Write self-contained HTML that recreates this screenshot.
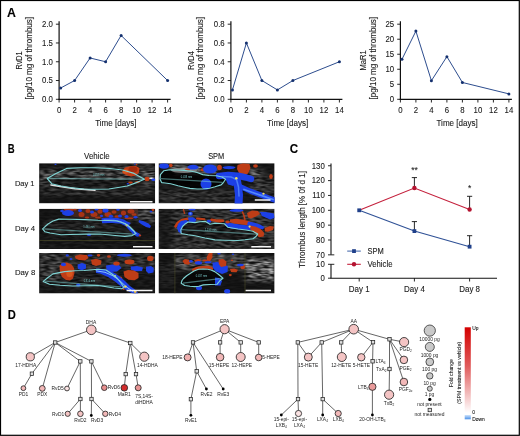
<!DOCTYPE html>
<html><head><meta charset="utf-8"><style>
html,body{margin:0;padding:0;background:#fff;}
body{width:520px;height:436px;overflow:hidden;}
svg{display:block;font-family:"Liberation Sans", sans-serif;will-change:transform;}
text{stroke:#1a1a1a;stroke-width:0.1px;}
.nos{stroke:none}
</style></head><body>
<svg width="520" height="436" viewBox="0 0 520 436">
<defs>
<linearGradient id="fc" x1="0" y1="0" x2="0" y2="1"><stop offset="0" stop-color="#d40000"/><stop offset="0.45" stop-color="#e05a5a"/><stop offset="1" stop-color="#ffffff"/></linearGradient>
<linearGradient id="fcb" x1="0" y1="0" x2="0" y2="1"><stop offset="0" stop-color="#cfe3fb"/><stop offset="1" stop-color="#4a90e8"/></linearGradient>
<filter id="spk" x="0" y="0" width="100%" height="100%" filterUnits="objectBoundingBox">
<feTurbulence type="fractalNoise" baseFrequency="0.16 0.45" numOctaves="3" seed="7"/>
<feColorMatrix type="matrix" values="0 0 0 0 1  0 0 0 0 1  0 0 0 0 1  2.0 0 0 0 -0.62"/>
<feGaussianBlur stdDeviation="0.8 0.6"/>
</filter>
<filter id="bl" x="-30%" y="-30%" width="160%" height="160%"><feGaussianBlur stdDeviation="0.6"/></filter>
<filter id="bl2" x="-50%" y="-50%" width="200%" height="200%"><feGaussianBlur stdDeviation="2.0"/></filter>
<filter id="bl1" x="-50%" y="-50%" width="200%" height="200%"><feGaussianBlur stdDeviation="0.4"/></filter>
<clipPath id="cp11"><rect x="39.1" y="163.2" width="116.1" height="40.2"/></clipPath>
<mask id="mp11" maskUnits="userSpaceOnUse" x="39.1" y="163.2" width="116.1" height="40.2">
<rect x="39.1" y="163.2" width="116.1" height="40.2" fill="#101010"/>
<g filter="url(#bl2)">
<rect x="95" y="163" width="61" height="6" fill="#fff" opacity="0.3"/>
<rect x="40" y="169" width="116" height="11" fill="#fff" opacity="0.55"/>
<ellipse cx="44" cy="178" rx="8" ry="6" fill="#fff" opacity="0.45"/>
<rect x="40" y="180" width="116" height="9" fill="#fff" opacity="0.2"/>
<rect x="40" y="189" width="116" height="7" fill="#fff" opacity="0.3"/>
<rect x="143" y="168" width="13" height="22" fill="#fff" opacity="0.2"/>
</g></mask>
<clipPath id="cp12"><rect x="158.5" y="163.2" width="116.1" height="40.2"/></clipPath>
<mask id="mp12" maskUnits="userSpaceOnUse" x="158.5" y="163.2" width="116.1" height="40.2">
<rect x="158.5" y="163.2" width="116.1" height="40.2" fill="#1a1a1a"/>
<g filter="url(#bl2)">
<rect x="170" y="165" width="47" height="9" fill="#fff" opacity="0.9"/>
<rect x="245" y="170" width="17" height="6" fill="#fff" opacity="0.8"/>
<rect x="158" y="189" width="77" height="14" fill="#fff" opacity="0.25"/>
<rect x="250" y="176" width="25" height="19" fill="#fff" opacity="0.35"/>
</g></mask>
<clipPath id="cp21"><rect x="39.1" y="208.7" width="116.1" height="40.4"/></clipPath>
<mask id="mp21" maskUnits="userSpaceOnUse" x="39.1" y="208.7" width="116.1" height="40.4">
<rect x="39.1" y="208.7" width="116.1" height="40.4" fill="#101010"/>
<g filter="url(#bl2)">
<rect x="135" y="209" width="21" height="13" fill="#fff" opacity="0.6"/>
<rect x="44" y="219" width="88" height="16" fill="#fff" opacity="0.2"/>
<rect x="40" y="236" width="116" height="13" fill="#fff" opacity="0.05"/>
</g></mask>
<clipPath id="cp22"><rect x="158.5" y="208.7" width="116.1" height="40.4"/></clipPath>
<mask id="mp22" maskUnits="userSpaceOnUse" x="158.5" y="208.7" width="116.1" height="40.4">
<rect x="158.5" y="208.7" width="116.1" height="40.4" fill="#4d4d4d"/>
<g filter="url(#bl2)">
<rect x="175" y="209" width="100" height="40" fill="#fff" opacity="0.15"/>
<polygon points="158.0,209.0 170.0,209.0 170.0,249.0 158.0,249.0" fill="#000" opacity="0.5"/>
</g></mask>
<clipPath id="cp31"><rect x="39.1" y="253.0" width="116.1" height="40.5"/></clipPath>
<mask id="mp31" maskUnits="userSpaceOnUse" x="39.1" y="253.0" width="116.1" height="40.5">
<rect x="39.1" y="253.0" width="116.1" height="40.5" fill="#1a1a1a"/>
<g filter="url(#bl2)">
<rect x="40" y="253" width="20" height="29" fill="#fff" opacity="0.45"/>
<rect x="60" y="253" width="96" height="17" fill="#fff" opacity="0.3"/>
<rect x="50" y="272" width="68" height="14" fill="#fff" opacity="0.25"/>
</g></mask>
<clipPath id="cp32"><rect x="158.5" y="253.0" width="116.1" height="40.5"/></clipPath>
<mask id="mp32" maskUnits="userSpaceOnUse" x="158.5" y="253.0" width="116.1" height="40.5">
<rect x="158.5" y="253.0" width="116.1" height="40.5" fill="#101010"/>
<g filter="url(#bl2)">
<rect x="175" y="254" width="70" height="16" fill="#fff" opacity="0.6"/>
<rect x="245" y="258" width="30" height="23" fill="#fff" opacity="1.0"/>
<rect x="159" y="262" width="16" height="23" fill="#fff" opacity="0.15"/>
</g></mask>
</defs>
<rect x="0" y="0" width="520" height="436" fill="#fff"/>
<text x="7.00" y="16.90" font-size="12" text-anchor="start" font-weight="bold" fill="#000" textLength="8.9" lengthAdjust="spacingAndGlyphs">A</text>
<text x="7.80" y="152.60" font-size="12" text-anchor="start" font-weight="bold" fill="#000" textLength="6.9" lengthAdjust="spacingAndGlyphs">B</text>
<text x="289.80" y="152.60" font-size="12" text-anchor="start" font-weight="bold" fill="#000" textLength="8.4" lengthAdjust="spacingAndGlyphs">C</text>
<text x="7.80" y="318.90" font-size="12" text-anchor="start" font-weight="bold" fill="#000" textLength="8.1" lengthAdjust="spacingAndGlyphs">D</text>
<line x1="59.10" y1="21.20" x2="59.10" y2="99.90" stroke="#111" stroke-width="1.2" />
<line x1="58.50" y1="99.30" x2="170.60" y2="99.30" stroke="#111" stroke-width="1.2" />
<line x1="55.90" y1="99.30" x2="59.10" y2="99.30" stroke="#111" stroke-width="0.9" />
<text transform="translate(52.90,102.10) scale(0.93,1)" font-size="8.4" text-anchor="end" font-weight="normal" fill="#1a1a1a" >0.0</text>
<line x1="55.90" y1="80.53" x2="59.10" y2="80.53" stroke="#111" stroke-width="0.9" />
<text transform="translate(52.90,83.33) scale(0.93,1)" font-size="8.4" text-anchor="end" font-weight="normal" fill="#1a1a1a" >0.5</text>
<line x1="55.90" y1="61.75" x2="59.10" y2="61.75" stroke="#111" stroke-width="0.9" />
<text transform="translate(52.90,64.55) scale(0.93,1)" font-size="8.4" text-anchor="end" font-weight="normal" fill="#1a1a1a" >1.0</text>
<line x1="55.90" y1="42.98" x2="59.10" y2="42.98" stroke="#111" stroke-width="0.9" />
<text transform="translate(52.90,45.77) scale(0.93,1)" font-size="8.4" text-anchor="end" font-weight="normal" fill="#1a1a1a" >1.5</text>
<line x1="55.90" y1="24.20" x2="59.10" y2="24.20" stroke="#111" stroke-width="0.9" />
<text transform="translate(52.90,27.00) scale(0.93,1)" font-size="8.4" text-anchor="end" font-weight="normal" fill="#1a1a1a" >2.0</text>
<line x1="59.10" y1="99.30" x2="59.10" y2="102.50" stroke="#111" stroke-width="0.9" />
<text transform="translate(59.10,113.30) scale(0.93,1)" font-size="8.4" text-anchor="middle" font-weight="normal" fill="#1a1a1a" >0</text>
<line x1="74.60" y1="99.30" x2="74.60" y2="102.50" stroke="#111" stroke-width="0.9" />
<text transform="translate(74.60,113.30) scale(0.93,1)" font-size="8.4" text-anchor="middle" font-weight="normal" fill="#1a1a1a" >2</text>
<line x1="90.10" y1="99.30" x2="90.10" y2="102.50" stroke="#111" stroke-width="0.9" />
<text transform="translate(90.10,113.30) scale(0.93,1)" font-size="8.4" text-anchor="middle" font-weight="normal" fill="#1a1a1a" >4</text>
<line x1="105.60" y1="99.30" x2="105.60" y2="102.50" stroke="#111" stroke-width="0.9" />
<text transform="translate(105.60,113.30) scale(0.93,1)" font-size="8.4" text-anchor="middle" font-weight="normal" fill="#1a1a1a" >6</text>
<line x1="121.10" y1="99.30" x2="121.10" y2="102.50" stroke="#111" stroke-width="0.9" />
<text transform="translate(121.10,113.30) scale(0.93,1)" font-size="8.4" text-anchor="middle" font-weight="normal" fill="#1a1a1a" >8</text>
<line x1="136.60" y1="99.30" x2="136.60" y2="102.50" stroke="#111" stroke-width="0.9" />
<text transform="translate(136.60,113.30) scale(0.93,1)" font-size="8.4" text-anchor="middle" font-weight="normal" fill="#1a1a1a" >10</text>
<line x1="152.10" y1="99.30" x2="152.10" y2="102.50" stroke="#111" stroke-width="0.9" />
<text transform="translate(152.10,113.30) scale(0.93,1)" font-size="8.4" text-anchor="middle" font-weight="normal" fill="#1a1a1a" >12</text>
<line x1="167.60" y1="99.30" x2="167.60" y2="102.50" stroke="#111" stroke-width="0.9" />
<text transform="translate(167.60,113.30) scale(0.93,1)" font-size="8.4" text-anchor="middle" font-weight="normal" fill="#1a1a1a" >14</text>
<text x="115.85" y="125.60" font-size="8.4" text-anchor="middle" font-weight="normal" fill="#1a1a1a" textLength="41.3" lengthAdjust="spacingAndGlyphs">Time [days]</text>
<polyline fill="none" stroke="#2d4d8e" stroke-width="1" points="60.65,88.03 74.60,80.53 90.10,57.99 105.60,61.75 121.10,35.47 167.60,80.53"/>
<circle cx="60.65" cy="88.03" r="1.5" fill="#14306e"/>
<circle cx="74.60" cy="80.53" r="1.5" fill="#14306e"/>
<circle cx="90.10" cy="57.99" r="1.5" fill="#14306e"/>
<circle cx="105.60" cy="61.75" r="1.5" fill="#14306e"/>
<circle cx="121.10" cy="35.47" r="1.5" fill="#14306e"/>
<circle cx="167.60" cy="80.53" r="1.5" fill="#14306e"/>
<text transform="translate(22.40,60.5) rotate(-90)" font-size="8.4" text-anchor="middle" fill="#1a1a1a" textLength="18" lengthAdjust="spacingAndGlyphs">RvD1</text>
<text transform="translate(32.10,58.2) rotate(-90)" font-size="8.4" text-anchor="middle" fill="#1a1a1a" textLength="82.5" lengthAdjust="spacingAndGlyphs">[pg/10 mg of thrombus]</text>
<line x1="230.90" y1="21.20" x2="230.90" y2="99.90" stroke="#111" stroke-width="1.2" />
<line x1="230.30" y1="99.30" x2="342.40" y2="99.30" stroke="#111" stroke-width="1.2" />
<line x1="227.70" y1="99.30" x2="230.90" y2="99.30" stroke="#111" stroke-width="0.9" />
<text transform="translate(224.70,102.10) scale(0.93,1)" font-size="8.4" text-anchor="end" font-weight="normal" fill="#1a1a1a" >0.0</text>
<line x1="227.70" y1="80.53" x2="230.90" y2="80.53" stroke="#111" stroke-width="0.9" />
<text transform="translate(224.70,83.33) scale(0.93,1)" font-size="8.4" text-anchor="end" font-weight="normal" fill="#1a1a1a" >0.2</text>
<line x1="227.70" y1="61.75" x2="230.90" y2="61.75" stroke="#111" stroke-width="0.9" />
<text transform="translate(224.70,64.55) scale(0.93,1)" font-size="8.4" text-anchor="end" font-weight="normal" fill="#1a1a1a" >0.4</text>
<line x1="227.70" y1="42.98" x2="230.90" y2="42.98" stroke="#111" stroke-width="0.9" />
<text transform="translate(224.70,45.78) scale(0.93,1)" font-size="8.4" text-anchor="end" font-weight="normal" fill="#1a1a1a" >0.6</text>
<line x1="227.70" y1="24.20" x2="230.90" y2="24.20" stroke="#111" stroke-width="0.9" />
<text transform="translate(224.70,27.00) scale(0.93,1)" font-size="8.4" text-anchor="end" font-weight="normal" fill="#1a1a1a" >0.8</text>
<line x1="230.90" y1="99.30" x2="230.90" y2="102.50" stroke="#111" stroke-width="0.9" />
<text transform="translate(230.90,113.30) scale(0.93,1)" font-size="8.4" text-anchor="middle" font-weight="normal" fill="#1a1a1a" >0</text>
<line x1="246.40" y1="99.30" x2="246.40" y2="102.50" stroke="#111" stroke-width="0.9" />
<text transform="translate(246.40,113.30) scale(0.93,1)" font-size="8.4" text-anchor="middle" font-weight="normal" fill="#1a1a1a" >2</text>
<line x1="261.90" y1="99.30" x2="261.90" y2="102.50" stroke="#111" stroke-width="0.9" />
<text transform="translate(261.90,113.30) scale(0.93,1)" font-size="8.4" text-anchor="middle" font-weight="normal" fill="#1a1a1a" >4</text>
<line x1="277.40" y1="99.30" x2="277.40" y2="102.50" stroke="#111" stroke-width="0.9" />
<text transform="translate(277.40,113.30) scale(0.93,1)" font-size="8.4" text-anchor="middle" font-weight="normal" fill="#1a1a1a" >6</text>
<line x1="292.90" y1="99.30" x2="292.90" y2="102.50" stroke="#111" stroke-width="0.9" />
<text transform="translate(292.90,113.30) scale(0.93,1)" font-size="8.4" text-anchor="middle" font-weight="normal" fill="#1a1a1a" >8</text>
<line x1="308.40" y1="99.30" x2="308.40" y2="102.50" stroke="#111" stroke-width="0.9" />
<text transform="translate(308.40,113.30) scale(0.93,1)" font-size="8.4" text-anchor="middle" font-weight="normal" fill="#1a1a1a" >10</text>
<line x1="323.90" y1="99.30" x2="323.90" y2="102.50" stroke="#111" stroke-width="0.9" />
<text transform="translate(323.90,113.30) scale(0.93,1)" font-size="8.4" text-anchor="middle" font-weight="normal" fill="#1a1a1a" >12</text>
<line x1="339.40" y1="99.30" x2="339.40" y2="102.50" stroke="#111" stroke-width="0.9" />
<text transform="translate(339.40,113.30) scale(0.93,1)" font-size="8.4" text-anchor="middle" font-weight="normal" fill="#1a1a1a" >14</text>
<text x="287.65" y="125.60" font-size="8.4" text-anchor="middle" font-weight="normal" fill="#1a1a1a" textLength="41.3" lengthAdjust="spacingAndGlyphs">Time [days]</text>
<polyline fill="none" stroke="#2d4d8e" stroke-width="1" points="232.45,89.91 246.40,42.98 261.90,80.53 277.40,89.91 292.90,80.53 339.40,61.75"/>
<circle cx="232.45" cy="89.91" r="1.5" fill="#14306e"/>
<circle cx="246.40" cy="42.98" r="1.5" fill="#14306e"/>
<circle cx="261.90" cy="80.53" r="1.5" fill="#14306e"/>
<circle cx="277.40" cy="89.91" r="1.5" fill="#14306e"/>
<circle cx="292.90" cy="80.53" r="1.5" fill="#14306e"/>
<circle cx="339.40" cy="61.75" r="1.5" fill="#14306e"/>
<text transform="translate(194.00,60.5) rotate(-90)" font-size="8.4" text-anchor="middle" fill="#1a1a1a" textLength="18.5" lengthAdjust="spacingAndGlyphs">RvD4</text>
<text transform="translate(203.30,58.2) rotate(-90)" font-size="8.4" text-anchor="middle" fill="#1a1a1a" textLength="82.5" lengthAdjust="spacingAndGlyphs">[pg/10 mg of thrombus]</text>
<line x1="400.40" y1="21.20" x2="400.40" y2="99.90" stroke="#111" stroke-width="1.2" />
<line x1="399.80" y1="99.30" x2="511.90" y2="99.30" stroke="#111" stroke-width="1.2" />
<line x1="397.20" y1="99.30" x2="400.40" y2="99.30" stroke="#111" stroke-width="0.9" />
<text transform="translate(394.20,102.10) scale(0.93,1)" font-size="8.4" text-anchor="end" font-weight="normal" fill="#1a1a1a" >0</text>
<line x1="397.20" y1="84.28" x2="400.40" y2="84.28" stroke="#111" stroke-width="0.9" />
<text transform="translate(394.20,87.08) scale(0.93,1)" font-size="8.4" text-anchor="end" font-weight="normal" fill="#1a1a1a" >5</text>
<line x1="397.20" y1="69.26" x2="400.40" y2="69.26" stroke="#111" stroke-width="0.9" />
<text transform="translate(394.20,72.06) scale(0.93,1)" font-size="8.4" text-anchor="end" font-weight="normal" fill="#1a1a1a" >10</text>
<line x1="397.20" y1="54.24" x2="400.40" y2="54.24" stroke="#111" stroke-width="0.9" />
<text transform="translate(394.20,57.04) scale(0.93,1)" font-size="8.4" text-anchor="end" font-weight="normal" fill="#1a1a1a" >15</text>
<line x1="397.20" y1="39.22" x2="400.40" y2="39.22" stroke="#111" stroke-width="0.9" />
<text transform="translate(394.20,42.02) scale(0.93,1)" font-size="8.4" text-anchor="end" font-weight="normal" fill="#1a1a1a" >20</text>
<line x1="397.20" y1="24.20" x2="400.40" y2="24.20" stroke="#111" stroke-width="0.9" />
<text transform="translate(394.20,27.00) scale(0.93,1)" font-size="8.4" text-anchor="end" font-weight="normal" fill="#1a1a1a" >25</text>
<line x1="400.40" y1="99.30" x2="400.40" y2="102.50" stroke="#111" stroke-width="0.9" />
<text transform="translate(400.40,113.30) scale(0.93,1)" font-size="8.4" text-anchor="middle" font-weight="normal" fill="#1a1a1a" >0</text>
<line x1="415.90" y1="99.30" x2="415.90" y2="102.50" stroke="#111" stroke-width="0.9" />
<text transform="translate(415.90,113.30) scale(0.93,1)" font-size="8.4" text-anchor="middle" font-weight="normal" fill="#1a1a1a" >2</text>
<line x1="431.40" y1="99.30" x2="431.40" y2="102.50" stroke="#111" stroke-width="0.9" />
<text transform="translate(431.40,113.30) scale(0.93,1)" font-size="8.4" text-anchor="middle" font-weight="normal" fill="#1a1a1a" >4</text>
<line x1="446.90" y1="99.30" x2="446.90" y2="102.50" stroke="#111" stroke-width="0.9" />
<text transform="translate(446.90,113.30) scale(0.93,1)" font-size="8.4" text-anchor="middle" font-weight="normal" fill="#1a1a1a" >6</text>
<line x1="462.40" y1="99.30" x2="462.40" y2="102.50" stroke="#111" stroke-width="0.9" />
<text transform="translate(462.40,113.30) scale(0.93,1)" font-size="8.4" text-anchor="middle" font-weight="normal" fill="#1a1a1a" >8</text>
<line x1="477.90" y1="99.30" x2="477.90" y2="102.50" stroke="#111" stroke-width="0.9" />
<text transform="translate(477.90,113.30) scale(0.93,1)" font-size="8.4" text-anchor="middle" font-weight="normal" fill="#1a1a1a" >10</text>
<line x1="493.40" y1="99.30" x2="493.40" y2="102.50" stroke="#111" stroke-width="0.9" />
<text transform="translate(493.40,113.30) scale(0.93,1)" font-size="8.4" text-anchor="middle" font-weight="normal" fill="#1a1a1a" >12</text>
<line x1="508.90" y1="99.30" x2="508.90" y2="102.50" stroke="#111" stroke-width="0.9" />
<text transform="translate(508.90,113.30) scale(0.93,1)" font-size="8.4" text-anchor="middle" font-weight="normal" fill="#1a1a1a" >14</text>
<text x="457.15" y="125.60" font-size="8.4" text-anchor="middle" font-weight="normal" fill="#1a1a1a" textLength="41.3" lengthAdjust="spacingAndGlyphs">Time [days]</text>
<polyline fill="none" stroke="#2d4d8e" stroke-width="1" points="401.95,59.35 415.90,31.11 431.40,80.68 446.90,56.64 462.40,82.48 508.90,93.89"/>
<circle cx="401.95" cy="59.35" r="1.5" fill="#14306e"/>
<circle cx="415.90" cy="31.11" r="1.5" fill="#14306e"/>
<circle cx="431.40" cy="80.68" r="1.5" fill="#14306e"/>
<circle cx="446.90" cy="56.64" r="1.5" fill="#14306e"/>
<circle cx="462.40" cy="82.48" r="1.5" fill="#14306e"/>
<circle cx="508.90" cy="93.89" r="1.5" fill="#14306e"/>
<text transform="translate(366.00,60.5) rotate(-90)" font-size="8.4" text-anchor="middle" fill="#1a1a1a" textLength="20.2" lengthAdjust="spacingAndGlyphs">MaR1</text>
<text transform="translate(375.60,58.2) rotate(-90)" font-size="8.4" text-anchor="middle" fill="#1a1a1a" textLength="82.5" lengthAdjust="spacingAndGlyphs">[pg/10 mg of thrombus]</text>
<line x1="331.00" y1="163.50" x2="331.00" y2="254.85" stroke="#111" stroke-width="1.1" />
<line x1="331.00" y1="264.30" x2="331.00" y2="278.20" stroke="#111" stroke-width="1.1" />
<line x1="330.50" y1="278.20" x2="497.00" y2="278.20" stroke="#111" stroke-width="1.1" />
<line x1="328.00" y1="165.75" x2="331.00" y2="165.75" stroke="#111" stroke-width="0.9" />
<text transform="translate(324.80,168.55) scale(0.93,1)" font-size="8.4" text-anchor="end" font-weight="normal" fill="#1a1a1a" >130</text>
<line x1="328.00" y1="180.60" x2="331.00" y2="180.60" stroke="#111" stroke-width="0.9" />
<text transform="translate(324.80,183.40) scale(0.93,1)" font-size="8.4" text-anchor="end" font-weight="normal" fill="#1a1a1a" >120</text>
<line x1="328.00" y1="195.45" x2="331.00" y2="195.45" stroke="#111" stroke-width="0.9" />
<text transform="translate(324.80,198.25) scale(0.93,1)" font-size="8.4" text-anchor="end" font-weight="normal" fill="#1a1a1a" >110</text>
<line x1="328.00" y1="210.30" x2="331.00" y2="210.30" stroke="#111" stroke-width="0.9" />
<text transform="translate(324.80,213.10) scale(0.93,1)" font-size="8.4" text-anchor="end" font-weight="normal" fill="#1a1a1a" >100</text>
<line x1="328.00" y1="225.15" x2="331.00" y2="225.15" stroke="#111" stroke-width="0.9" />
<text transform="translate(324.80,227.95) scale(0.93,1)" font-size="8.4" text-anchor="end" font-weight="normal" fill="#1a1a1a" >90</text>
<line x1="328.00" y1="240.00" x2="331.00" y2="240.00" stroke="#111" stroke-width="0.9" />
<text transform="translate(324.80,242.80) scale(0.93,1)" font-size="8.4" text-anchor="end" font-weight="normal" fill="#1a1a1a" >80</text>
<line x1="328.00" y1="254.85" x2="334.30" y2="254.85" stroke="#111" stroke-width="0.9" />
<text transform="translate(324.80,257.65) scale(0.93,1)" font-size="8.4" text-anchor="end" font-weight="normal" fill="#1a1a1a" >70</text>
<line x1="328.00" y1="264.30" x2="334.30" y2="264.30" stroke="#111" stroke-width="0.9" />
<text transform="translate(324.80,267.10) scale(0.93,1)" font-size="8.4" text-anchor="end" font-weight="normal" fill="#1a1a1a" >10</text>
<line x1="328.00" y1="278.20" x2="331.00" y2="278.20" stroke="#111" stroke-width="0.9" />
<text transform="translate(324.80,281.00) scale(0.93,1)" font-size="8.4" text-anchor="end" font-weight="normal" fill="#1a1a1a" >0</text>
<line x1="359.20" y1="278.20" x2="359.20" y2="281.50" stroke="#111" stroke-width="0.9" />
<text transform="translate(359.20,291.50) scale(0.95,1)" font-size="8.4" text-anchor="middle" font-weight="normal" fill="#1a1a1a" >Day 1</text>
<line x1="414.40" y1="278.20" x2="414.40" y2="281.50" stroke="#111" stroke-width="0.9" />
<text transform="translate(414.40,291.50) scale(0.95,1)" font-size="8.4" text-anchor="middle" font-weight="normal" fill="#1a1a1a" >Day 4</text>
<line x1="469.60" y1="278.20" x2="469.60" y2="281.50" stroke="#111" stroke-width="0.9" />
<text transform="translate(469.60,291.50) scale(0.95,1)" font-size="8.4" text-anchor="middle" font-weight="normal" fill="#1a1a1a" >Day 8</text>
<text transform="translate(304.6,219.5) rotate(-90)" font-size="8.4" text-anchor="middle" fill="#1a1a1a" textLength="97" lengthAdjust="spacingAndGlyphs">Thrombus length [% 0f d 1]</text>
<line x1="414.40" y1="188.03" x2="414.40" y2="177.60" stroke="#111" stroke-width="0.9" />
<line x1="411.80" y1="177.60" x2="417.00" y2="177.60" stroke="#111" stroke-width="0.9" />
<line x1="469.60" y1="209.56" x2="469.60" y2="196.30" stroke="#111" stroke-width="0.9" />
<line x1="467.00" y1="196.30" x2="472.20" y2="196.30" stroke="#111" stroke-width="0.9" />
<polyline fill="none" stroke="#c4203c" stroke-width="1.1" points="359.20,210.30 414.40,188.03 469.60,209.56"/>
<line x1="414.40" y1="231.09" x2="414.40" y2="221.60" stroke="#111" stroke-width="0.9" />
<line x1="411.80" y1="221.60" x2="417.00" y2="221.60" stroke="#111" stroke-width="0.9" />
<line x1="469.60" y1="246.68" x2="469.60" y2="235.70" stroke="#111" stroke-width="0.9" />
<line x1="467.00" y1="235.70" x2="472.20" y2="235.70" stroke="#111" stroke-width="0.9" />
<polyline fill="none" stroke="#2f5196" stroke-width="1.1" points="359.20,210.30 414.40,231.09 469.60,246.68"/>
<rect x="357.30" y="208.40" width="3.8" height="3.8" fill="#20408a"/>
<rect x="412.50" y="229.19" width="3.8" height="3.8" fill="#20408a"/>
<rect x="467.70" y="244.78" width="3.8" height="3.8" fill="#20408a"/>
<circle cx="414.40" cy="188.03" r="2.2" fill="#b3122f"/>
<circle cx="469.60" cy="209.56" r="2.2" fill="#b3122f"/>
<text x="414.40" y="172.50" font-size="8.4" text-anchor="middle" font-weight="normal" fill="#1a1a1a" >**</text>
<text x="469.60" y="190.80" font-size="8.4" text-anchor="middle" font-weight="normal" fill="#1a1a1a" >*</text>
<line x1="347.20" y1="251.10" x2="360.80" y2="251.10" stroke="#4a6cae" stroke-width="1.1" />
<rect x="352.1" y="249.2" width="3.8" height="3.8" fill="#20408a"/>
<text x="367.50" y="254.20" font-size="8.4" text-anchor="start" font-weight="normal" fill="#1a1a1a" textLength="16.3" lengthAdjust="spacingAndGlyphs">SPM</text>
<line x1="347.20" y1="264.30" x2="360.80" y2="264.30" stroke="#c4203c" stroke-width="1.1" />
<circle cx="354" cy="264.3" r="2.2" fill="#b3122f"/>
<text x="367.50" y="266.70" font-size="8.4" text-anchor="start" font-weight="normal" fill="#1a1a1a" textLength="25" lengthAdjust="spacingAndGlyphs">Vehicle</text>
<text x="96.85" y="159.20" font-size="8.3" text-anchor="middle" font-weight="normal" fill="#1a1a1a" textLength="25.5" lengthAdjust="spacingAndGlyphs">Vehicle</text>
<text x="216.20" y="159.10" font-size="8.3" text-anchor="middle" font-weight="normal" fill="#1a1a1a" textLength="16.1" lengthAdjust="spacingAndGlyphs">SPM</text>
<text x="24.70" y="185.80" font-size="7.9" text-anchor="middle" font-weight="normal" fill="#1a1a1a" textLength="19.6" lengthAdjust="spacingAndGlyphs">Day 1</text>
<text x="25.00" y="231.30" font-size="7.9" text-anchor="middle" font-weight="normal" fill="#1a1a1a" textLength="20.2" lengthAdjust="spacingAndGlyphs">Day 4</text>
<text x="25.10" y="275.40" font-size="7.9" text-anchor="middle" font-weight="normal" fill="#1a1a1a" textLength="20.4" lengthAdjust="spacingAndGlyphs">Day 8</text>
<line x1="91.30" y1="329.80" x2="55.20" y2="342.50" stroke="#333" stroke-width="0.75" />
<line x1="91.30" y1="329.80" x2="130.30" y2="343.00" stroke="#333" stroke-width="0.75" />
<line x1="55.20" y1="342.50" x2="30.30" y2="356.80" stroke="#333" stroke-width="0.75" />
<line x1="55.20" y1="342.50" x2="31.90" y2="373.70" stroke="#333" stroke-width="0.75" />
<line x1="31.90" y1="373.70" x2="23.40" y2="388.20" stroke="#333" stroke-width="0.75" />
<line x1="55.20" y1="342.50" x2="42.30" y2="388.40" stroke="#333" stroke-width="0.75" />
<line x1="55.20" y1="342.50" x2="80.30" y2="361.40" stroke="#333" stroke-width="0.75" />
<line x1="55.20" y1="342.50" x2="91.40" y2="361.40" stroke="#333" stroke-width="0.75" />
<line x1="80.30" y1="361.40" x2="67.00" y2="388.50" stroke="#333" stroke-width="0.75" />
<line x1="80.30" y1="361.40" x2="80.40" y2="399.00" stroke="#333" stroke-width="0.75" />
<line x1="80.40" y1="399.00" x2="67.70" y2="413.80" stroke="#333" stroke-width="0.75" />
<line x1="80.40" y1="399.00" x2="80.40" y2="413.80" stroke="#333" stroke-width="0.75" />
<line x1="91.40" y1="361.40" x2="91.50" y2="399.00" stroke="#333" stroke-width="0.75" />
<line x1="91.40" y1="361.40" x2="104.30" y2="387.70" stroke="#333" stroke-width="0.75" />
<line x1="91.50" y1="399.00" x2="91.30" y2="415.50" stroke="#333" stroke-width="0.75" />
<line x1="91.50" y1="399.00" x2="105.30" y2="413.80" stroke="#333" stroke-width="0.75" />
<line x1="130.30" y1="343.00" x2="144.30" y2="356.70" stroke="#333" stroke-width="0.75" />
<line x1="130.30" y1="343.00" x2="125.70" y2="374.10" stroke="#333" stroke-width="0.75" />
<line x1="130.30" y1="343.00" x2="136.00" y2="374.10" stroke="#333" stroke-width="0.75" />
<line x1="125.70" y1="374.10" x2="124.30" y2="387.80" stroke="#333" stroke-width="0.75" />
<line x1="136.00" y1="374.10" x2="138.20" y2="387.80" stroke="#333" stroke-width="0.75" />
<line x1="224.60" y1="329.20" x2="193.00" y2="342.40" stroke="#333" stroke-width="0.75" />
<line x1="224.60" y1="329.20" x2="220.10" y2="342.40" stroke="#333" stroke-width="0.75" />
<line x1="224.60" y1="329.20" x2="240.70" y2="342.40" stroke="#333" stroke-width="0.75" />
<line x1="224.60" y1="329.20" x2="258.70" y2="342.40" stroke="#333" stroke-width="0.75" />
<line x1="193.00" y1="342.40" x2="187.60" y2="357.40" stroke="#333" stroke-width="0.75" />
<line x1="220.10" y1="342.40" x2="220.10" y2="357.20" stroke="#333" stroke-width="0.75" />
<line x1="240.70" y1="342.40" x2="240.70" y2="357.00" stroke="#333" stroke-width="0.75" />
<line x1="258.70" y1="342.40" x2="258.70" y2="357.50" stroke="#333" stroke-width="0.75" />
<line x1="193.00" y1="342.40" x2="196.70" y2="371.30" stroke="#333" stroke-width="0.75" />
<line x1="196.70" y1="371.30" x2="190.90" y2="399.20" stroke="#333" stroke-width="0.75" />
<line x1="190.90" y1="399.20" x2="190.90" y2="415.30" stroke="#333" stroke-width="0.75" />
<line x1="196.70" y1="371.30" x2="206.40" y2="389.00" stroke="#333" stroke-width="0.75" />
<line x1="193.00" y1="342.40" x2="223.20" y2="389.00" stroke="#333" stroke-width="0.75" />
<line x1="353.70" y1="329.20" x2="297.80" y2="342.40" stroke="#333" stroke-width="0.75" />
<line x1="353.70" y1="329.20" x2="321.70" y2="342.40" stroke="#333" stroke-width="0.75" />
<line x1="353.70" y1="329.20" x2="341.20" y2="342.40" stroke="#333" stroke-width="0.75" />
<line x1="353.70" y1="329.20" x2="373.00" y2="342.20" stroke="#333" stroke-width="0.75" />
<line x1="353.70" y1="329.20" x2="389.50" y2="339.30" stroke="#333" stroke-width="0.75" />
<line x1="297.80" y1="342.40" x2="308.30" y2="357.10" stroke="#333" stroke-width="0.75" />
<line x1="321.70" y1="342.40" x2="308.30" y2="357.10" stroke="#333" stroke-width="0.75" />
<line x1="341.20" y1="342.40" x2="341.80" y2="357.00" stroke="#333" stroke-width="0.75" />
<line x1="373.00" y1="342.20" x2="361.30" y2="357.30" stroke="#333" stroke-width="0.75" />
<line x1="297.80" y1="342.40" x2="298.00" y2="399.10" stroke="#333" stroke-width="0.75" />
<line x1="321.70" y1="342.40" x2="322.70" y2="399.10" stroke="#333" stroke-width="0.75" />
<line x1="298.00" y1="399.10" x2="281.30" y2="415.00" stroke="#333" stroke-width="0.75" />
<line x1="298.00" y1="399.10" x2="298.50" y2="413.50" stroke="#333" stroke-width="0.75" />
<line x1="322.70" y1="399.10" x2="322.70" y2="415.00" stroke="#333" stroke-width="0.75" />
<line x1="322.70" y1="399.10" x2="338.20" y2="413.50" stroke="#333" stroke-width="0.75" />
<line x1="373.00" y1="342.20" x2="372.60" y2="361.30" stroke="#333" stroke-width="0.75" />
<line x1="372.60" y1="361.30" x2="372.40" y2="386.80" stroke="#333" stroke-width="0.75" />
<line x1="372.40" y1="386.80" x2="372.40" y2="415.00" stroke="#333" stroke-width="0.75" />
<line x1="389.50" y1="339.30" x2="404.10" y2="342.10" stroke="#333" stroke-width="0.75" />
<line x1="389.50" y1="339.30" x2="403.90" y2="359.90" stroke="#333" stroke-width="0.75" />
<line x1="389.50" y1="339.30" x2="403.90" y2="382.00" stroke="#333" stroke-width="0.75" />
<line x1="389.50" y1="339.30" x2="389.50" y2="369.00" stroke="#333" stroke-width="0.75" />
<line x1="389.50" y1="369.00" x2="389.10" y2="394.70" stroke="#333" stroke-width="0.75" />
<circle cx="91.3" cy="329.8" r="4.8" fill="#f4c4c4" stroke="#262626" stroke-width="0.85"/>
<rect x="53.50" y="340.80" width="3.4" height="3.4" fill="#dedede" stroke="#262626" stroke-width="0.75"/>
<rect x="128.60" y="341.30" width="3.4" height="3.4" fill="#dedede" stroke="#262626" stroke-width="0.75"/>
<circle cx="30.3" cy="356.8" r="4.1" fill="#f4c4c4" stroke="#262626" stroke-width="0.85"/>
<rect x="30.20" y="372.00" width="3.4" height="3.4" fill="#dedede" stroke="#262626" stroke-width="0.75"/>
<circle cx="23.4" cy="388.2" r="2.4" fill="#f2b8b8" stroke="#262626" stroke-width="0.85"/>
<circle cx="42.3" cy="388.4" r="2.9" fill="#f2b8b8" stroke="#262626" stroke-width="0.85"/>
<rect x="78.60" y="359.70" width="3.4" height="3.4" fill="#dedede" stroke="#262626" stroke-width="0.75"/>
<rect x="89.70" y="359.70" width="3.4" height="3.4" fill="#dedede" stroke="#262626" stroke-width="0.75"/>
<circle cx="67.0" cy="388.5" r="2.4" fill="#fbe3e3" stroke="#262626" stroke-width="0.85"/>
<rect x="78.70" y="397.30" width="3.4" height="3.4" fill="#dedede" stroke="#262626" stroke-width="0.75"/>
<rect x="89.80" y="397.30" width="3.4" height="3.4" fill="#dedede" stroke="#262626" stroke-width="0.75"/>
<circle cx="67.7" cy="413.8" r="2.6" fill="#f4c4c4" stroke="#262626" stroke-width="0.85"/>
<circle cx="80.4" cy="413.8" r="2.8" fill="#f4c4c4" stroke="#262626" stroke-width="0.85"/>
<circle cx="91.3" cy="415.5" r="1.4" fill="#000"/>
<circle cx="105.3" cy="413.8" r="2.7" fill="#f2b8b8" stroke="#262626" stroke-width="0.85"/>
<circle cx="104.3" cy="387.7" r="2.8" fill="#e88e8e" stroke="#262626" stroke-width="0.85"/>
<circle cx="144.3" cy="356.7" r="4.6" fill="#f4c4c4" stroke="#262626" stroke-width="0.85"/>
<rect x="124.00" y="372.40" width="3.4" height="3.4" fill="#dedede" stroke="#262626" stroke-width="0.75"/>
<rect x="134.30" y="372.40" width="3.4" height="3.4" fill="#dedede" stroke="#262626" stroke-width="0.75"/>
<circle cx="124.3" cy="387.8" r="3.3" fill="#d22c2c" stroke="#262626" stroke-width="0.85"/>
<circle cx="138.2" cy="387.8" r="3.0" fill="#e89595" stroke="#262626" stroke-width="0.85"/>
<circle cx="224.6" cy="329.2" r="4.6" fill="#f4c4c4" stroke="#262626" stroke-width="0.85"/>
<rect x="191.30" y="340.70" width="3.4" height="3.4" fill="#dedede" stroke="#262626" stroke-width="0.75"/>
<rect x="218.40" y="340.70" width="3.4" height="3.4" fill="#dedede" stroke="#262626" stroke-width="0.75"/>
<rect x="239.00" y="340.70" width="3.4" height="3.4" fill="#dedede" stroke="#262626" stroke-width="0.75"/>
<rect x="257.00" y="340.70" width="3.4" height="3.4" fill="#dedede" stroke="#262626" stroke-width="0.75"/>
<circle cx="187.6" cy="357.4" r="3.5" fill="#f0b0b0" stroke="#262626" stroke-width="0.85"/>
<circle cx="220.1" cy="357.2" r="3.8" fill="#f2b8b8" stroke="#262626" stroke-width="0.85"/>
<circle cx="240.7" cy="357.0" r="4.5" fill="#f4c4c4" stroke="#262626" stroke-width="0.85"/>
<circle cx="258.7" cy="357.5" r="3.3" fill="#f2b8b8" stroke="#262626" stroke-width="0.85"/>
<rect x="195.00" y="369.60" width="3.4" height="3.4" fill="#dedede" stroke="#262626" stroke-width="0.75"/>
<rect x="189.20" y="397.50" width="3.4" height="3.4" fill="#dedede" stroke="#262626" stroke-width="0.75"/>
<circle cx="190.9" cy="415.3" r="1.4" fill="#000"/>
<circle cx="206.4" cy="389.0" r="1.4" fill="#000"/>
<circle cx="223.2" cy="389.0" r="1.4" fill="#000"/>
<circle cx="353.7" cy="329.2" r="4.8" fill="#f4c4c4" stroke="#262626" stroke-width="0.85"/>
<rect x="296.10" y="340.70" width="3.4" height="3.4" fill="#dedede" stroke="#262626" stroke-width="0.75"/>
<rect x="320.00" y="340.70" width="3.4" height="3.4" fill="#dedede" stroke="#262626" stroke-width="0.75"/>
<rect x="339.50" y="340.70" width="3.4" height="3.4" fill="#dedede" stroke="#262626" stroke-width="0.75"/>
<rect x="371.30" y="340.50" width="3.4" height="3.4" fill="#dedede" stroke="#262626" stroke-width="0.75"/>
<rect x="387.80" y="337.60" width="3.4" height="3.4" fill="#dedede" stroke="#262626" stroke-width="0.75"/>
<circle cx="308.3" cy="357.1" r="4.0" fill="#f4c4c4" stroke="#262626" stroke-width="0.85"/>
<circle cx="341.8" cy="357.0" r="4.5" fill="#f4c4c4" stroke="#262626" stroke-width="0.85"/>
<circle cx="361.3" cy="357.3" r="3.7" fill="#f4c4c4" stroke="#262626" stroke-width="0.85"/>
<rect x="296.30" y="397.40" width="3.4" height="3.4" fill="#dedede" stroke="#262626" stroke-width="0.75"/>
<rect x="321.00" y="397.40" width="3.4" height="3.4" fill="#dedede" stroke="#262626" stroke-width="0.75"/>
<circle cx="281.3" cy="415.0" r="1.4" fill="#000"/>
<circle cx="298.5" cy="413.5" r="3.1" fill="#fbe3e3" stroke="#262626" stroke-width="0.85"/>
<circle cx="322.7" cy="415.0" r="1.4" fill="#000"/>
<circle cx="338.2" cy="413.5" r="3.1" fill="#f2b8b8" stroke="#262626" stroke-width="0.85"/>
<rect x="370.90" y="359.60" width="3.4" height="3.4" fill="#dedede" stroke="#262626" stroke-width="0.75"/>
<circle cx="372.4" cy="386.8" r="3.6" fill="#e99a9a" stroke="#262626" stroke-width="0.85"/>
<circle cx="372.4" cy="415.0" r="1.4" fill="#000"/>
<circle cx="404.1" cy="342.1" r="4.6" fill="#f4c4c4" stroke="#262626" stroke-width="0.85"/>
<circle cx="403.9" cy="359.9" r="3.8" fill="#f4c4c4" stroke="#262626" stroke-width="0.85"/>
<circle cx="403.9" cy="382.0" r="3.8" fill="#f2b8b8" stroke="#262626" stroke-width="0.85"/>
<rect x="387.80" y="367.30" width="3.4" height="3.4" fill="#dedede" stroke="#262626" stroke-width="0.75"/>
<circle cx="389.1" cy="394.7" r="4.6" fill="#f4c4c4" stroke="#262626" stroke-width="0.85"/>
<text x="91.00" y="324.00" font-size="4.9" text-anchor="middle" font-weight="normal" fill="#222" class="nos">DHA</text>
<text x="224.60" y="323.30" font-size="4.9" text-anchor="middle" font-weight="normal" fill="#222" class="nos">EPA</text>
<text x="353.70" y="323.30" font-size="4.9" text-anchor="middle" font-weight="normal" fill="#222" class="nos">AA</text>
<text x="25.70" y="366.50" font-size="4.9" text-anchor="middle" font-weight="normal" fill="#222" class="nos">17-HDHA</text>
<text x="147.40" y="366.50" font-size="4.9" text-anchor="middle" font-weight="normal" fill="#222" class="nos">14-HDHA</text>
<text x="23.40" y="396.10" font-size="4.9" text-anchor="middle" font-weight="normal" fill="#222" class="nos">PD1</text>
<text x="42.30" y="396.10" font-size="4.9" text-anchor="middle" font-weight="normal" fill="#222" class="nos">PDX</text>
<text x="63.80" y="390.20" font-size="4.9" text-anchor="end" font-weight="normal" fill="#222" class="nos">RvD5</text>
<text x="107.80" y="389.40" font-size="4.9" text-anchor="start" font-weight="normal" fill="#222" class="nos">RvD6</text>
<text x="124.30" y="395.70" font-size="4.9" text-anchor="middle" font-weight="normal" fill="#222" class="nos">MaR1</text>
<text x="144.00" y="397.50" font-size="4.9" text-anchor="middle" font-weight="normal" fill="#222" class="nos">7S,14S-</text>
<text x="144.00" y="403.90" font-size="4.9" text-anchor="middle" font-weight="normal" fill="#222" class="nos">diHDHA</text>
<text x="64.30" y="415.50" font-size="4.9" text-anchor="end" font-weight="normal" fill="#222" class="nos">RvD1</text>
<text x="80.40" y="421.90" font-size="4.9" text-anchor="middle" font-weight="normal" fill="#222" class="nos">RvD2</text>
<text x="97.00" y="421.90" font-size="4.9" text-anchor="middle" font-weight="normal" fill="#222" class="nos">RvD3</text>
<text x="108.80" y="415.50" font-size="4.9" text-anchor="start" font-weight="normal" fill="#222" class="nos">RvD4</text>
<text x="182.60" y="359.10" font-size="4.9" text-anchor="end" font-weight="normal" fill="#222" class="nos">18-HEPE</text>
<text x="219.00" y="366.50" font-size="4.9" text-anchor="middle" font-weight="normal" fill="#222" class="nos">15-HEPE</text>
<text x="241.80" y="366.50" font-size="4.9" text-anchor="middle" font-weight="normal" fill="#222" class="nos">12-HEPE</text>
<text x="262.20" y="359.20" font-size="4.9" text-anchor="start" font-weight="normal" fill="#222" class="nos">5-HEPE</text>
<text x="206.60" y="395.90" font-size="4.9" text-anchor="middle" font-weight="normal" fill="#222" class="nos">RvE2</text>
<text x="223.20" y="395.90" font-size="4.9" text-anchor="middle" font-weight="normal" fill="#222" class="nos">RvE3</text>
<text x="190.90" y="421.70" font-size="4.9" text-anchor="middle" font-weight="normal" fill="#222" class="nos">RvE1</text>
<text x="308.10" y="366.50" font-size="4.9" text-anchor="middle" font-weight="normal" fill="#222" class="nos">15-HETE</text>
<text x="341.20" y="366.50" font-size="4.9" text-anchor="middle" font-weight="normal" fill="#222" class="nos">12-HETE</text>
<text x="361.40" y="366.50" font-size="4.9" text-anchor="middle" font-weight="normal" fill="#222" class="nos">5-HETE</text>
<text x="281.30" y="421.00" font-size="4.9" text-anchor="middle" font-weight="normal" fill="#222" class="nos">15-epi-</text>
<text x="281.30" y="426.90" font-size="4.9" text-anchor="middle" font-weight="normal" fill="#222" class="nos">LXB<tspan font-size="3.2" dy="1">4</tspan></text>
<text x="299.40" y="421.00" font-size="4.9" text-anchor="middle" font-weight="normal" fill="#222" class="nos">15-epi-</text>
<text x="299.40" y="426.90" font-size="4.9" text-anchor="middle" font-weight="normal" fill="#222" class="nos">LXA<tspan font-size="3.2" dy="1">4</tspan></text>
<text x="322.40" y="421.00" font-size="4.9" text-anchor="middle" font-weight="normal" fill="#222" class="nos">LXA<tspan font-size="3.2" dy="1">4</tspan></text>
<text x="338.20" y="421.00" font-size="4.9" text-anchor="middle" font-weight="normal" fill="#222" class="nos">LXB<tspan font-size="3.2" dy="1">4</tspan></text>
<text x="368.50" y="388.50" font-size="4.9" text-anchor="end" font-weight="normal" fill="#222" class="nos">LTB<tspan font-size="3.2" dy="1">4</tspan></text>
<text x="372.40" y="421.00" font-size="4.9" text-anchor="middle" font-weight="normal" fill="#222" class="nos">20-OH-LTB<tspan font-size="3.2" dy="1">4</tspan></text>
<text x="375.50" y="363.00" font-size="4.9" text-anchor="start" font-weight="normal" fill="#222" class="nos">LTA<tspan font-size="3.2" dy="1">4</tspan></text>
<text x="386.50" y="370.70" font-size="4.9" text-anchor="end" font-weight="normal" fill="#222" class="nos">TxA<tspan font-size="3.2" dy="1">2</tspan></text>
<text x="389.10" y="404.70" font-size="4.9" text-anchor="middle" font-weight="normal" fill="#222" class="nos">TxB<tspan font-size="3.2" dy="1">2</tspan></text>
<text x="405.60" y="351.20" font-size="4.9" text-anchor="middle" font-weight="normal" fill="#222" class="nos">PGD<tspan font-size="3.2" dy="1">2</tspan></text>
<text x="405.60" y="369.80" font-size="4.9" text-anchor="middle" font-weight="normal" fill="#222" class="nos">PGE<tspan font-size="3.2" dy="1">2</tspan></text>
<text x="405.60" y="391.30" font-size="4.9" text-anchor="middle" font-weight="normal" fill="#222" class="nos">PGF<tspan font-size="3.2" dy="1">2α</tspan></text>
<circle cx="429.8" cy="330.6" r="5.6" fill="#c9c9c9" stroke="#262626" stroke-width="0.75"/>
<text x="429.50" y="341.40" font-size="4.9" text-anchor="middle" font-weight="normal" fill="#222" class="nos">10000 pg</text>
<circle cx="429.8" cy="346.9" r="4.5" fill="#c9c9c9" stroke="#262626" stroke-width="0.75"/>
<text x="429.50" y="357.00" font-size="4.9" text-anchor="middle" font-weight="normal" fill="#222" class="nos">1000 pg</text>
<circle cx="429.8" cy="361.9" r="3.9" fill="#c9c9c9" stroke="#262626" stroke-width="0.75"/>
<text x="429.50" y="371.10" font-size="4.9" text-anchor="middle" font-weight="normal" fill="#222" class="nos">100 pg</text>
<circle cx="429.8" cy="375.9" r="3.2" fill="#c9c9c9" stroke="#262626" stroke-width="0.75"/>
<text x="429.50" y="384.50" font-size="4.9" text-anchor="middle" font-weight="normal" fill="#222" class="nos">10 pg</text>
<circle cx="429.8" cy="388.7" r="2.5" fill="#c9c9c9" stroke="#262626" stroke-width="0.75"/>
<text x="429.50" y="396.10" font-size="4.9" text-anchor="middle" font-weight="normal" fill="#222" class="nos">1 pg</text>
<circle cx="429.8" cy="399.4" r="1.6" fill="#000"/>
<text x="429.50" y="406.40" font-size="4.9" text-anchor="middle" font-weight="normal" fill="#222" class="nos">not present</text>
<rect x="428.1" y="408.3" width="3.4" height="3.4" fill="#dedede" stroke="#262626" stroke-width="0.75"/>
<text x="429.50" y="416.10" font-size="4.9" text-anchor="middle" font-weight="normal" fill="#222" class="nos">not measured</text>
<rect x="464.7" y="327.3" width="6.1" height="85.5" fill="url(#fc)"/>
<rect x="464.7" y="415.0" width="6.1" height="4.3" fill="url(#fcb)"/>
<text x="472.30" y="330.20" font-size="4.9" text-anchor="start" font-weight="normal" fill="#222" >Up</text>
<text x="472.30" y="414.00" font-size="4.9" text-anchor="start" font-weight="normal" fill="#222" >0</text>
<text x="472.30" y="420.60" font-size="4.9" text-anchor="start" font-weight="normal" fill="#222" >Down</text>
<text transform="translate(453.0,373.2) rotate(-90)" font-size="5.1" text-anchor="middle" fill="#222">Fold change</text>
<text transform="translate(460.7,372.8) rotate(-90)" font-size="5.1" text-anchor="middle" fill="#222" textLength="61.7" lengthAdjust="spacingAndGlyphs">(SPM treatment vs vehicle)</text>
<g clip-path="url(#cp11)">
<rect x="39.1" y="163.2" width="116.1" height="40.2" fill="#101010"/>
<rect x="39.1" y="163.2" width="116.1" height="40.2" fill="#000" filter="url(#spk)" mask="url(#mp11)" opacity="0.8"/>
<polygon points="47.0,179.0 144.0,179.5 136.0,182.6 127.0,186.0 109.0,189.0 84.0,189.0 61.0,186.0 52.0,183.7" fill="#000" opacity="0.2" filter="url(#bl)"/>
<g filter="url(#bl)">
<polygon points="122.5,171.0 125.0,167.5 130.0,166.2 136.0,166.0 139.5,168.0 139.0,172.5 136.0,175.5 131.0,176.5 126.0,175.0 122.5,173.0" fill="#bf3c18" opacity="1"/>
<ellipse cx="133" cy="169.5" rx="4.5" ry="3" fill="#a02a0c" opacity="1" transform="rotate(0 133 169.5)"/>
<ellipse cx="125.5" cy="171.5" rx="3" ry="2.2" fill="#e06020" opacity="0.7" transform="rotate(0 125.5 171.5)"/>
<ellipse cx="147" cy="179" rx="2.6" ry="2.2" fill="#bf3c18" opacity="1" transform="rotate(0 147 179)"/>
<ellipse cx="151.5" cy="178.3" rx="2.4" ry="0.8" fill="#f4f4f4" opacity="1" transform="rotate(0 151.5 178.3)"/>
<ellipse cx="153.5" cy="179.8" rx="2.3" ry="1.3" fill="#1f3fe6" opacity="1" transform="rotate(0 153.5 179.8)"/>
<ellipse cx="130.5" cy="182.6" rx="2.3" ry="1.1" fill="#bf3c18" opacity="1" transform="rotate(0 130.5 182.6)"/>
<ellipse cx="137.5" cy="182.2" rx="2.3" ry="1.1" fill="#bf3c18" opacity="1" transform="rotate(0 137.5 182.2)"/>
<ellipse cx="127.8" cy="183.7" rx="1.2" ry="0.8" fill="#1f3fe6" opacity="1" transform="rotate(0 127.8 183.7)"/>
<ellipse cx="55.5" cy="164.3" rx="1.1" ry="0.8" fill="#1f3fe6" opacity="1" transform="rotate(0 55.5 164.3)"/>
<ellipse cx="135" cy="163.9" rx="1.1" ry="0.7" fill="#1f3fe6" opacity="1" transform="rotate(0 135 163.9)"/>
<ellipse cx="136.5" cy="164.6" rx="1" ry="0.7" fill="#bf3c18" opacity="1" transform="rotate(0 136.5 164.6)"/>
<polyline fill="none" stroke-linecap="round" stroke-linejoin="round" stroke="#f2f2f2" stroke-width="1.6" opacity="0.9" points="51.0,185.0 60.0,186.5 75.0,188.8 95.0,190.3"/>
</g>
<line x1="47.50" y1="178.40" x2="144.00" y2="179.40" stroke="#7fd3d3" stroke-width="1.3" opacity="0.5"/>
<polygon points="47.2,178.5 56.0,173.5 66.6,168.4 80.0,167.8 95.2,167.7 110.0,168.5 122.7,170.0 134.1,173.4 144.4,179.2 136.4,182.6 127.2,186.0 108.9,189.0 95.0,189.2 83.8,189.0 70.0,187.5 60.9,186.0 51.7,183.7" fill="none" stroke="#7fd3d3" stroke-width="1.15" stroke-linejoin="round"/>
<text x="98.7" y="175.6" font-size="2.6" fill="#7fd3d3" class="nos" text-anchor="middle" opacity="0.9">0.455 mm</text>
<line x1="130.00" y1="201.70" x2="152.50" y2="201.70" stroke="#f6f6f6" stroke-width="1.5" />
</g>
<g clip-path="url(#cp12)">
<rect x="158.5" y="163.2" width="116.1" height="40.2" fill="#101010"/>
<rect x="158.5" y="163.2" width="116.1" height="40.2" fill="#000" filter="url(#spk)" mask="url(#mp12)" opacity="0.8"/>
<polygon points="160.4,174.6 163.9,170.7 170.0,169.8 177.6,170.0 184.0,170.4 191.3,171.2 197.0,172.5 202.8,174.6 209.0,175.5 216.5,175.7 222.0,177.0 225.6,179.2 223.0,183.0 221.1,184.9 215.0,186.8 209.6,188.3 203.0,189.0 197.0,189.0 190.0,188.4 184.5,187.2 178.0,185.8 170.7,183.7 165.0,183.0 161.6,182.6 160.0,179.0" fill="#000" opacity="0.8" filter="url(#bl)"/>
<g filter="url(#bl)">
<ellipse cx="184" cy="170.3" rx="13" ry="2.8" fill="#9a9a9a" opacity="0.75" transform="rotate(0 184 170.3)"/>
<ellipse cx="164" cy="166" rx="5" ry="2.8" fill="#1f3fe6" opacity="1" transform="rotate(0 164 166)"/>
<ellipse cx="170.8" cy="165.3" rx="1.8" ry="1.9" fill="#bf3c18" opacity="1" transform="rotate(0 170.8 165.3)"/>
<ellipse cx="193" cy="167.2" rx="5.5" ry="2.4" fill="#1f3fe6" opacity="1" transform="rotate(0 193 167.2)"/>
<ellipse cx="187.5" cy="169.6" rx="2.5" ry="1.2" fill="#bf3c18" opacity="1" transform="rotate(0 187.5 169.6)"/>
<ellipse cx="202.5" cy="169.8" rx="2" ry="1.5" fill="#bf3c18" opacity="1" transform="rotate(0 202.5 169.8)"/>
<ellipse cx="210" cy="169" rx="7" ry="4.6" fill="#1f3fe6" opacity="1" transform="rotate(0 210 169)"/>
<ellipse cx="219.5" cy="167.5" rx="2.4" ry="2.8" fill="#bf3c18" opacity="1" transform="rotate(0 219.5 167.5)"/>
<ellipse cx="229" cy="167.6" rx="6.5" ry="1.6" fill="#1f3fe6" opacity="1" transform="rotate(0 229 167.6)"/>
<polygon points="237.5,165.0 243.0,163.2 249.5,164.0 250.5,168.0 248.0,173.5 243.0,176.0 239.0,173.0 237.0,169.0" fill="#bf3c18" opacity="1"/>
<ellipse cx="255.5" cy="166" rx="2.4" ry="1.7" fill="#bf3c18" opacity="1" transform="rotate(0 255.5 166)"/>
<ellipse cx="271" cy="176.5" rx="1.8" ry="2.6" fill="#bf3c18" opacity="1" transform="rotate(0 271 176.5)"/>
<polyline fill="none" stroke-linecap="round" stroke-linejoin="round" stroke="#1f3fe6" stroke-width="6.5" opacity="1" points="219.0,176.0 228.0,175.0 238.0,175.8 246.0,177.5 251.0,179.0"/>
<polyline fill="none" stroke-linecap="round" stroke-linejoin="round" stroke="#1f3fe6" stroke-width="8" opacity="1" points="236.5,178.0 238.0,187.0 239.0,195.0 238.5,204.0"/>
<polyline fill="none" stroke-linecap="round" stroke-linejoin="round" stroke="#1f3fe6" stroke-width="5.2" opacity="1" points="240.0,186.5 250.0,191.0 260.0,194.8 268.0,197.8 276.0,200.5"/>
<polygon points="225.0,178.0 232.0,178.0 236.0,184.0 233.0,186.0 228.0,184.5" fill="#1f3fe6" opacity="1"/>
<ellipse cx="206" cy="184" rx="5.5" ry="5.5" fill="#1f3fe6" opacity="1" transform="rotate(0 206 184)"/>
<polyline fill="none" stroke-linecap="round" stroke-linejoin="round" stroke="#5b95ff" stroke-width="1.5" opacity="0.7" points="222.0,176.5 231.0,177.0 236.5,179.5 238.5,187.0 239.0,196.0"/>
<polyline fill="none" stroke-linecap="round" stroke-linejoin="round" stroke="#5b95ff" stroke-width="1.8" opacity="0.85" points="244.0,189.5 254.0,193.0 264.0,196.3 273.0,199.5"/>
<ellipse cx="236.3" cy="178.2" rx="1.3" ry="1.3" fill="#f0e060" opacity="1" transform="rotate(0 236.3 178.2)"/>
<ellipse cx="263.5" cy="193.7" rx="1.2" ry="1.0" fill="#f0e060" opacity="1" transform="rotate(0 263.5 193.7)"/>
</g>
<line x1="161.00" y1="178.60" x2="222.50" y2="182.40" stroke="#7fd3d3" stroke-width="1.3" opacity="0.5"/>
<polygon points="160.4,174.6 163.9,170.7 170.0,169.8 177.6,170.0 184.0,170.4 191.3,171.2 197.0,172.5 202.8,174.6 209.0,175.5 216.5,175.7 222.0,177.0 225.6,179.2 223.0,183.0 221.1,184.9 215.0,186.8 209.6,188.3 203.0,189.0 197.0,189.0 190.0,188.4 184.5,187.2 178.0,185.8 170.7,183.7 165.0,183.0 161.6,182.6 160.0,179.0" fill="none" stroke="#7fd3d3" stroke-width="1.15" stroke-linejoin="round"/>
<text x="186.5" y="178.4" font-size="2.6" fill="#7fd3d3" class="nos" text-anchor="middle" opacity="0.9">0.438 mm</text>
<line x1="254.80" y1="200.10" x2="270.50" y2="200.10" stroke="#f6f6f6" stroke-width="1.5" />
</g>
<g clip-path="url(#cp21)">
<rect x="39.1" y="208.7" width="116.1" height="40.4" fill="#101010"/>
<rect x="39.1" y="208.7" width="116.1" height="40.4" fill="#000" filter="url(#spk)" mask="url(#mp21)" opacity="0.8"/>
<polygon points="42.6,228.9 48.0,224.0 53.0,221.0 58.8,219.1 70.0,219.2 85.0,219.6 98.0,220.3 108.0,220.5 117.0,221.0 125.0,223.5 130.0,227.0 134.0,231.0 135.5,233.8 132.0,235.6 124.8,236.4 115.0,235.5 100.0,234.0 86.5,234.1 70.0,234.5 61.0,234.7 50.0,233.0 45.0,231.8" fill="#000" opacity="0.1" filter="url(#bl)"/>
<line x1="39.10" y1="240.50" x2="155.20" y2="240.50" stroke="#5a5a2a" stroke-width="0.5" />
<g filter="url(#bl)">
<g filter="url(#bl1)">
<polygon points="62.0,208.7 138.0,208.7 138.0,216.0 132.0,219.2 118.0,218.6 100.0,219.0 85.0,218.5 75.0,217.0 64.0,215.0" fill="#5a3028" opacity="0.6"/>
<ellipse cx="69" cy="209.8" rx="5" ry="1.4" fill="#a83416" opacity="1" transform="rotate(0 69 209.8)"/>
<ellipse cx="81.5" cy="214.5" rx="3" ry="2.5" fill="#a83416" opacity="1" transform="rotate(0 81.5 214.5)"/>
<ellipse cx="88" cy="211" rx="2.6" ry="2" fill="#a83416" opacity="1" transform="rotate(0 88 211)"/>
<ellipse cx="94" cy="214.5" rx="3.5" ry="2.5" fill="#a83416" opacity="1" transform="rotate(0 94 214.5)"/>
<ellipse cx="100" cy="211.5" rx="2.6" ry="2.2" fill="#a83416" opacity="1" transform="rotate(0 100 211.5)"/>
<ellipse cx="98" cy="217.5" rx="3" ry="1.1" fill="#a83416" opacity="1" transform="rotate(0 98 217.5)"/>
<ellipse cx="108" cy="214.5" rx="3.5" ry="2.4" fill="#a83416" opacity="1" transform="rotate(0 108 214.5)"/>
<ellipse cx="114" cy="212" rx="2.6" ry="1.8" fill="#a83416" opacity="1" transform="rotate(0 114 212)"/>
<ellipse cx="117" cy="216.5" rx="2.6" ry="1.3" fill="#a83416" opacity="1" transform="rotate(0 117 216.5)"/>
<ellipse cx="123.5" cy="213" rx="2.6" ry="2.5" fill="#a83416" opacity="1" transform="rotate(0 123.5 213)"/>
<ellipse cx="131" cy="211.5" rx="3.5" ry="2.2" fill="#a83416" opacity="1" transform="rotate(0 131 211.5)"/>
<ellipse cx="134" cy="214.5" rx="2.6" ry="1.3" fill="#a83416" opacity="1" transform="rotate(0 134 214.5)"/>
<ellipse cx="129" cy="218.2" rx="4.5" ry="1.0" fill="#a83416" opacity="1" transform="rotate(0 129 218.2)"/>
<ellipse cx="75" cy="209.5" rx="1.8" ry="1.1" fill="#a83416" opacity="1" transform="rotate(0 75 209.5)"/>
<ellipse cx="87" cy="217.5" rx="2.2" ry="1.1" fill="#a83416" opacity="1" transform="rotate(0 87 217.5)"/>
<ellipse cx="68" cy="213" rx="6" ry="3" fill="#1f3fe6" opacity="1" transform="rotate(0 68 213)"/>
<ellipse cx="62" cy="211" rx="1.8" ry="1.3" fill="#1f3fe6" opacity="1" transform="rotate(0 62 211)"/>
<ellipse cx="80" cy="210.5" rx="2" ry="1.6" fill="#1f3fe6" opacity="1" transform="rotate(0 80 210.5)"/>
<ellipse cx="92" cy="212" rx="2" ry="1.6" fill="#1f3fe6" opacity="1" transform="rotate(0 92 212)"/>
<ellipse cx="105.5" cy="210.5" rx="3" ry="2.2" fill="#1f3fe6" opacity="1" transform="rotate(0 105.5 210.5)"/>
<ellipse cx="111" cy="216.2" rx="2.2" ry="1.5" fill="#1f3fe6" opacity="1" transform="rotate(0 111 216.2)"/>
<ellipse cx="120" cy="216" rx="2" ry="1.5" fill="#1f3fe6" opacity="1" transform="rotate(0 120 216)"/>
<ellipse cx="126.5" cy="216.5" rx="2" ry="1.5" fill="#1f3fe6" opacity="1" transform="rotate(0 126.5 216.5)"/>
<ellipse cx="135.5" cy="217.3" rx="2" ry="1.2" fill="#1f3fe6" opacity="1" transform="rotate(0 135.5 217.3)"/>
<ellipse cx="96.5" cy="209.5" rx="2" ry="1" fill="#1f3fe6" opacity="1" transform="rotate(0 96.5 209.5)"/>
<ellipse cx="101.5" cy="216" rx="1.5" ry="1.2" fill="#1f3fe6" opacity="1" transform="rotate(0 101.5 216)"/>
<ellipse cx="118" cy="209.8" rx="1.8" ry="1" fill="#1f3fe6" opacity="1" transform="rotate(0 118 209.8)"/>
</g>
<ellipse cx="153" cy="209.8" rx="1.4" ry="1.2" fill="#bf3c18" opacity="1" transform="rotate(0 153 209.8)"/>
<ellipse cx="151" cy="211.6" rx="1.4" ry="0.8" fill="#1f3fe6" opacity="1" transform="rotate(0 151 211.6)"/>
<polygon points="101.5,218.2 110.0,217.5 118.0,218.0 124.0,219.5 127.0,221.5 131.0,223.0 129.0,225.0 131.0,228.5 135.0,231.0 140.0,234.0 141.0,236.0 137.0,236.8 133.0,234.0 129.0,230.0 125.5,226.0 120.0,223.5 112.0,223.0 102.0,223.2" fill="#1f3fe6" opacity="1"/>
<polyline fill="none" stroke-linecap="round" stroke-linejoin="round" stroke="#5b95ff" stroke-width="1.0" opacity="0.9" points="104.0,220.0 114.0,220.2 121.0,221.6 127.0,225.5 132.0,230.0 137.0,234.0"/>
<ellipse cx="126.8" cy="225.3" rx="1.4" ry="1.1" fill="#e8b030" opacity="1" transform="rotate(0 126.8 225.3)"/>
<ellipse cx="140" cy="235.4" rx="1.2" ry="0.9" fill="#bf3c18" opacity="1" transform="rotate(0 140 235.4)"/>
<polygon points="139.0,220.0 143.0,221.0 148.5,223.5 151.0,226.0 150.0,228.0 146.0,227.0 141.0,224.0 138.5,222.0" fill="#1f3fe6" opacity="1"/>
<ellipse cx="89" cy="234.8" rx="2.4" ry="1.1" fill="#1f3fe6" opacity="1" transform="rotate(0 89 234.8)"/>
</g>
<line x1="44.00" y1="228.90" x2="133.00" y2="234.20" stroke="#7fd3d3" stroke-width="1.3" opacity="0.5"/>
<polygon points="42.6,228.9 48.0,224.0 53.0,221.0 58.8,219.1 70.0,219.2 85.0,219.6 98.0,220.3 108.0,220.5 117.0,221.0 125.0,223.5 130.0,227.0 134.0,231.0 135.5,233.8 132.0,235.6 124.8,236.4 115.0,235.5 100.0,234.0 86.5,234.1 70.0,234.5 61.0,234.7 50.0,233.0 45.0,231.8" fill="none" stroke="#7fd3d3" stroke-width="1.15" stroke-linejoin="round"/>
<text x="89" y="228" font-size="2.6" fill="#7fd3d3" class="nos" text-anchor="middle" opacity="0.9">1.490 mm</text>
<line x1="133.00" y1="246.80" x2="152.50" y2="246.80" stroke="#f6f6f6" stroke-width="1.5" />
</g>
<g clip-path="url(#cp22)">
<rect x="158.5" y="208.7" width="116.1" height="40.4" fill="#101010"/>
<rect x="158.5" y="208.7" width="116.1" height="40.4" fill="#000" filter="url(#spk)" mask="url(#mp22)" opacity="0.8"/>
<polygon points="181.2,233.5 180.8,230.0 182.5,226.5 184.7,224.3 188.2,222.0 195.0,222.6 200.0,221.8 205.5,221.4 210.0,224.3 215.0,223.2 224.2,223.7 227.7,227.2 238.0,229.0 246.0,230.0 253.0,231.2 257.7,234.1 256.0,236.5 253.0,238.7 245.0,239.8 238.0,240.5 225.0,240.2 215.0,239.9 205.0,238.0 195.0,235.8 188.0,234.8" fill="#000" opacity="0.4" filter="url(#bl)"/>
<g filter="url(#bl)">
<polyline fill="none" stroke-linecap="round" stroke-linejoin="round" stroke="#bf3c18" stroke-width="2.6" opacity="1" points="175.5,226.5 178.0,222.5 182.0,220.0 188.0,218.8"/>
<polygon points="178.0,224.0 181.0,221.0 186.0,220.0 189.0,221.5 186.0,223.5 183.0,226.0 181.5,230.0 181.0,233.5 178.5,232.0 177.0,228.0" fill="#1f3fe6" opacity="1"/>
<polygon points="188.0,217.5 193.0,217.2 196.5,219.5 195.0,222.3 189.0,222.3" fill="#1f3fe6" opacity="1"/>
<ellipse cx="190.4" cy="213.7" rx="2.4" ry="2" fill="#1f3fe6" opacity="1" transform="rotate(0 190.4 213.7)"/>
<ellipse cx="190.4" cy="213.5" rx="1.1" ry="1" fill="#5b95ff" opacity="1" transform="rotate(0 190.4 213.5)"/>
<polyline fill="none" stroke-linecap="round" stroke-linejoin="round" stroke="#bf3c18" stroke-width="1.2" opacity="1" points="183.5,209.3 184.5,213.5"/>
<ellipse cx="192" cy="209.6" rx="3.5" ry="1" fill="#1f3fe6" opacity="1" transform="rotate(0 192 209.6)"/>
<polyline fill="none" stroke-linecap="round" stroke-linejoin="round" stroke="#bf3c18" stroke-width="2" opacity="1" points="197.0,218.6 204.5,219.3"/>
<ellipse cx="209" cy="221.2" rx="2.3" ry="1.5" fill="#1f3fe6" opacity="1" transform="rotate(0 209 221.2)"/>
<polyline fill="none" stroke-linecap="round" stroke-linejoin="round" stroke="#bf3c18" stroke-width="2.4" opacity="1" points="211.5,219.7 216.0,220.5 223.0,220.8"/>
<ellipse cx="236.5" cy="210.4" rx="7" ry="1.4" fill="#1f3fe6" opacity="1" transform="rotate(0 236.5 210.4)"/>
<polyline fill="none" stroke-linecap="round" stroke-linejoin="round" stroke="#bf3c18" stroke-width="1.6" opacity="1" points="242.5,212.0 244.0,215.5 244.8,219.2"/>
<polygon points="247.0,213.0 252.0,210.5 258.0,211.0 260.0,214.0 256.0,216.5 251.0,218.5 248.0,217.5" fill="#bf3c18" opacity="1"/>
<polygon points="260.0,212.0 266.0,212.0 273.8,213.5 274.6,218.0 270.0,219.5 262.0,216.0" fill="#1f3fe6" opacity="1"/>
<polygon points="225.5,222.5 232.0,223.2 240.0,224.6 248.0,225.6 252.0,227.2 250.5,230.0 240.0,229.6 232.0,228.8 227.5,227.2 225.0,224.8" fill="#1f3fe6" opacity="1"/>
<polygon points="230.0,219.6 236.0,218.8 244.0,219.8 250.0,221.6 254.0,223.6 250.0,225.6 242.0,224.4 234.0,223.4 230.0,222.2" fill="#bf3c18" opacity="1"/>
<polygon points="248.0,221.6 254.0,222.4 260.0,224.4 264.5,227.0 263.0,229.6 258.0,228.6 252.0,226.6 247.0,225.2" fill="#1f3fe6" opacity="1"/>
<polygon points="250.0,225.6 256.0,226.8 261.0,229.2 264.2,233.0 263.6,236.6 259.0,237.2 255.5,233.5 250.5,229.8" fill="#bf3c18" opacity="1"/>
<ellipse cx="227.6" cy="222" rx="2.2" ry="1.4" fill="#bf3c18" opacity="1" transform="rotate(0 227.6 222)"/>
<ellipse cx="219.5" cy="221" rx="4.5" ry="1.4" fill="#bf3c18" opacity="1" transform="rotate(0 219.5 221)"/>
<ellipse cx="249.6" cy="226.6" rx="1.1" ry="1.1" fill="#f0e060" opacity="1" transform="rotate(0 249.6 226.6)"/>
<polygon points="264.6,228.0 270.0,226.0 273.8,226.5 273.0,230.0 268.0,231.8 265.0,231.5" fill="#bf3c18" opacity="1"/>
</g>
<line x1="182.00" y1="229.60" x2="257.00" y2="234.20" stroke="#7fd3d3" stroke-width="1.3" opacity="0.5"/>
<polygon points="181.2,233.5 180.8,230.0 182.5,226.5 184.7,224.3 188.2,222.0 195.0,222.6 200.0,221.8 205.5,221.4 210.0,224.3 215.0,223.2 224.2,223.7 227.7,227.2 238.0,229.0 246.0,230.0 253.0,231.2 257.7,234.1 256.0,236.5 253.0,238.7 245.0,239.8 238.0,240.5 225.0,240.2 215.0,239.9 205.0,238.0 195.0,235.8 188.0,234.8" fill="none" stroke="#7fd3d3" stroke-width="1.15" stroke-linejoin="round"/>
<text x="210.7" y="230.6" font-size="2.6" fill="#7fd3d3" class="nos" text-anchor="middle" opacity="0.9">1.199 mm</text>
<line x1="251.30" y1="246.80" x2="271.00" y2="246.80" stroke="#f6f6f6" stroke-width="1.5" />
</g>
<g clip-path="url(#cp31)">
<rect x="39.1" y="253.0" width="116.1" height="40.5" fill="#101010"/>
<rect x="39.1" y="253.0" width="116.1" height="40.5" fill="#000" filter="url(#spk)" mask="url(#mp31)" opacity="0.8"/>
<polygon points="43.2,281.4 48.0,277.5 53.0,273.9 64.5,271.6 75.0,270.8 84.2,270.5 98.0,269.3 106.0,270.0 112.0,274.0 117.0,278.0 121.0,283.0 124.0,287.5 121.5,288.8 114.0,288.0 105.0,286.5 98.0,285.5 85.0,285.8 72.6,286.0 60.0,285.3 49.5,284.3" fill="#000" opacity="0.2" filter="url(#bl)"/>
<g filter="url(#bl)">
<polygon points="59.5,266.0 62.0,263.0 67.0,262.5 71.5,264.5 74.0,268.0 74.5,273.0 73.0,278.5 70.0,280.5 66.0,280.0 62.0,277.0 60.0,272.5" fill="#bf3c18" opacity="1"/>
<ellipse cx="69.5" cy="273.5" rx="3.2" ry="3.6" fill="#e06020" opacity="0.75" transform="rotate(0 69.5 273.5)"/>
<ellipse cx="63.5" cy="264.5" rx="2.6" ry="1.8" fill="#1f3fe6" opacity="1" transform="rotate(0 63.5 264.5)"/>
<polygon points="75.0,256.0 80.0,254.6 87.0,255.0 88.5,258.0 85.0,260.5 79.0,260.0 75.5,258.5" fill="#bf3c18" opacity="1"/>
<polygon points="91.0,260.0 96.0,258.8 101.5,260.5 101.0,264.5 96.0,266.0 92.0,264.5" fill="#bf3c18" opacity="1"/>
<ellipse cx="98.5" cy="255.3" rx="1.6" ry="1.4" fill="#bf3c18" opacity="1" transform="rotate(0 98.5 255.3)"/>
<polygon points="77.5,264.5 82.0,263.0 86.0,264.5 86.0,268.5 82.0,270.3 78.0,269.0" fill="#1f3fe6" opacity="1"/>
<ellipse cx="67.3" cy="255.4" rx="1.6" ry="1.1" fill="#1f3fe6" opacity="1" transform="rotate(0 67.3 255.4)"/>
<ellipse cx="71" cy="259" rx="1.4" ry="1.1" fill="#1f3fe6" opacity="1" transform="rotate(0 71 259)"/>
<ellipse cx="90" cy="255.5" rx="2.5" ry="1" fill="#1f3fe6" opacity="1" transform="rotate(0 90 255.5)"/>
<ellipse cx="78.3" cy="285" rx="2.2" ry="1.5" fill="#1f3fe6" opacity="1" transform="rotate(0 78.3 285)"/>
<polygon points="106.0,265.5 112.0,264.5 119.0,265.0 121.5,268.0 117.0,271.5 110.0,272.0 106.5,269.5" fill="#1f3fe6" opacity="1"/>
<polygon points="130.6,266.5 137.0,266.0 143.0,267.5 142.0,271.0 135.0,271.3 131.0,269.8" fill="#1f3fe6" opacity="1"/>
<polygon points="146.0,266.8 151.0,266.0 153.7,268.0 153.5,272.5 148.5,273.5 146.0,271.0" fill="#1f3fe6" opacity="1"/>
<polygon points="123.5,271.5 128.0,270.0 134.0,270.5 138.5,273.0 138.5,278.0 134.5,280.3 128.5,279.8 124.5,277.0" fill="#bf3c18" opacity="1"/>
<ellipse cx="116.5" cy="263.5" rx="3.2" ry="2" fill="#bf3c18" opacity="1" transform="rotate(0 116.5 263.5)"/>
<ellipse cx="129.5" cy="262" rx="5" ry="2.4" fill="#bf3c18" opacity="1" transform="rotate(0 129.5 262)"/>
<ellipse cx="150.3" cy="258.4" rx="3.2" ry="2.6" fill="#bf3c18" opacity="1" transform="rotate(0 150.3 258.4)"/>
<ellipse cx="120.3" cy="278.5" rx="2" ry="2" fill="#bf3c18" opacity="1" transform="rotate(0 120.3 278.5)"/>
<ellipse cx="123.6" cy="289" rx="1.2" ry="1.1" fill="#bf3c18" opacity="1" transform="rotate(0 123.6 289)"/>
<ellipse cx="124.3" cy="255.3" rx="7.5" ry="1.5" fill="#1f3fe6" opacity="1" transform="rotate(0 124.3 255.3)"/>
<ellipse cx="109" cy="256.5" rx="2" ry="1.3" fill="#bf3c18" opacity="1" transform="rotate(0 109 256.5)"/>
<polygon points="96.0,268.5 104.0,269.0 112.0,271.5 119.0,276.0 125.0,281.0 130.0,286.0 135.5,290.0 138.5,293.5 133.0,293.5 127.0,290.5 121.0,286.5 115.0,281.5 108.0,277.0 100.0,273.5 96.0,273.0" fill="#1f3fe6" opacity="1"/>
<polyline fill="none" stroke-linecap="round" stroke-linejoin="round" stroke="#8fd0ff" stroke-width="1.0" opacity="0.9" points="96.0,270.8 105.0,272.3 113.0,275.8 120.0,280.8 126.0,286.6 133.0,291.5"/>
<ellipse cx="115" cy="276.2" rx="1.1" ry="1.1" fill="#f0e060" opacity="1" transform="rotate(0 115 276.2)"/>
<ellipse cx="125.4" cy="286.6" rx="1.3" ry="1.2" fill="#f0e060" opacity="1" transform="rotate(0 125.4 286.6)"/>
<ellipse cx="135.2" cy="291.8" rx="1.4" ry="1.1" fill="#f0c030" opacity="1" transform="rotate(0 135.2 291.8)"/>
</g>
<line x1="45.00" y1="281.20" x2="121.00" y2="286.80" stroke="#7fd3d3" stroke-width="1.3" opacity="0.5"/>
<polygon points="43.2,281.4 48.0,277.5 53.0,273.9 64.5,271.6 75.0,270.8 84.2,270.5 98.0,269.3 106.0,270.0 112.0,274.0 117.0,278.0 121.0,283.0 124.0,287.5 121.5,288.8 114.0,288.0 105.0,286.5 98.0,285.5 85.0,285.8 72.6,286.0 60.0,285.3 49.5,284.3" fill="none" stroke="#7fd3d3" stroke-width="1.15" stroke-linejoin="round"/>
<text x="89.4" y="281.7" font-size="2.6" fill="#7fd3d3" class="nos" text-anchor="middle" opacity="0.9">0.816 mm</text>
<line x1="126.60" y1="290.40" x2="152.50" y2="290.40" stroke="#f6f6f6" stroke-width="1.5" />
</g>
<g clip-path="url(#cp32)">
<rect x="158.5" y="253.0" width="116.1" height="40.5" fill="#101010"/>
<rect x="158.5" y="253.0" width="116.1" height="40.5" fill="#000" filter="url(#spk)" mask="url(#mp32)" opacity="0.8"/>
<polygon points="181.2,283.2 182.0,280.5 183.5,278.5 187.0,275.5 190.5,273.3 194.0,271.0 198.5,269.3 203.0,269.0 207.8,269.3 211.0,270.0 214.7,271.6 218.0,274.0 221.0,276.5 223.0,278.3 220.0,280.5 217.0,284.3 210.0,284.5 203.2,284.9 199.0,286.2 195.0,286.6 190.0,286.2 184.7,285.5" fill="#000" opacity="0.6" filter="url(#bl)"/>
<line x1="174.90" y1="253.00" x2="174.90" y2="293.50" stroke="#55552a" stroke-width="0.5" />
<line x1="245.00" y1="253.00" x2="245.00" y2="293.50" stroke="#55552a" stroke-width="0.5" />
<g filter="url(#bl)">
<polygon points="182.4,261.0 185.0,259.0 189.0,259.8 190.5,262.5 188.5,264.7 184.5,264.0" fill="#bf3c18" opacity="1"/>
<ellipse cx="191" cy="261.2" rx="1.8" ry="1.3" fill="#1f3fe6" opacity="1" transform="rotate(0 191 261.2)"/>
<polygon points="194.0,260.2 198.0,259.0 201.0,259.5 200.0,262.0 196.0,262.4" fill="#bf3c18" opacity="1"/>
<ellipse cx="198.5" cy="262.8" rx="3.6" ry="1.9" fill="#1f3fe6" opacity="1" transform="rotate(0 198.5 262.8)"/>
<polygon points="206.6,257.0 209.0,253.0 212.5,253.0 212.4,257.5 210.0,261.2 207.0,260.5" fill="#bf3c18" opacity="1"/>
<ellipse cx="205" cy="260.5" rx="2.8" ry="1" fill="#bf3c18" opacity="1" transform="rotate(0 205 260.5)"/>
<ellipse cx="208" cy="262.2" rx="3.5" ry="1" fill="#1f3fe6" opacity="1" transform="rotate(0 208 262.2)"/>
<polygon points="192.0,269.0 196.0,267.0 202.0,266.0 209.0,265.8 213.0,267.5 213.0,270.0 208.0,268.8 202.0,268.8 196.0,270.0 192.5,271.5" fill="#bf3c18" opacity="1"/>
<polygon points="212.4,262.4 217.0,262.0 222.0,263.0 228.0,266.5 227.5,272.0 222.0,274.0 216.0,271.5 213.0,268.0" fill="#1f3fe6" opacity="1"/>
<polygon points="218.5,259.5 223.0,259.0 226.5,261.5 226.0,266.0 221.0,267.0 218.8,264.0" fill="#bf3c18" opacity="1"/>
<polygon points="215.0,277.4 219.0,278.0 222.0,281.0 220.5,285.5 215.0,285.5" fill="#1f3fe6" opacity="1"/>
<polygon points="230.0,269.0 234.0,268.5 238.0,269.8 236.5,272.2 231.0,272.0" fill="#bf3c18" opacity="1"/>
<ellipse cx="242.7" cy="267" rx="2.4" ry="2.3" fill="#bf3c18" opacity="1" transform="rotate(0 242.7 267)"/>
<ellipse cx="240.4" cy="265" rx="3.4" ry="1.3" fill="#1f3fe6" opacity="1" transform="rotate(0 240.4 265)"/>
<ellipse cx="230.3" cy="275.1" rx="1.5" ry="1.1" fill="#bf3c18" opacity="1" transform="rotate(0 230.3 275.1)"/>
<ellipse cx="232" cy="260.2" rx="1.2" ry="0.8" fill="#bf3c18" opacity="1" transform="rotate(0 232 260.2)"/>
<ellipse cx="199" cy="288" rx="3" ry="2.2" fill="#1f3fe6" opacity="1" transform="rotate(0 199 288)"/>
<ellipse cx="227.1" cy="291.3" rx="3" ry="2.4" fill="#1f3fe6" opacity="1" transform="rotate(0 227.1 291.3)"/>
<ellipse cx="219" cy="253.8" rx="1.8" ry="0.8" fill="#1f3fe6" opacity="1" transform="rotate(0 219 253.8)"/>
<ellipse cx="233" cy="254.2" rx="1.2" ry="0.8" fill="#1f3fe6" opacity="1" transform="rotate(0 233 254.2)"/>
</g>
<line x1="183.00" y1="283.20" x2="222.00" y2="278.30" stroke="#7fd3d3" stroke-width="1.3" opacity="0.5"/>
<polygon points="181.2,283.2 182.0,280.5 183.5,278.5 187.0,275.5 190.5,273.3 194.0,271.0 198.5,269.3 203.0,269.0 207.8,269.3 211.0,270.0 214.7,271.6 218.0,274.0 221.0,276.5 223.0,278.3 220.0,280.5 217.0,284.3 210.0,284.5 203.2,284.9 199.0,286.2 195.0,286.6 190.0,286.2 184.7,285.5" fill="none" stroke="#7fd3d3" stroke-width="1.15" stroke-linejoin="round"/>
<text x="201.5" y="277.2" font-size="2.6" fill="#7fd3d3" class="nos" text-anchor="middle" opacity="0.9">0.437 mm</text>
<line x1="245.60" y1="290.40" x2="271.00" y2="290.40" stroke="#f6f6f6" stroke-width="1.5" />
</g>
<rect x="0.5" y="0.5" width="518.8" height="434.8" fill="none" stroke="#000" stroke-width="1.2"/>
</svg>
</body></html>
